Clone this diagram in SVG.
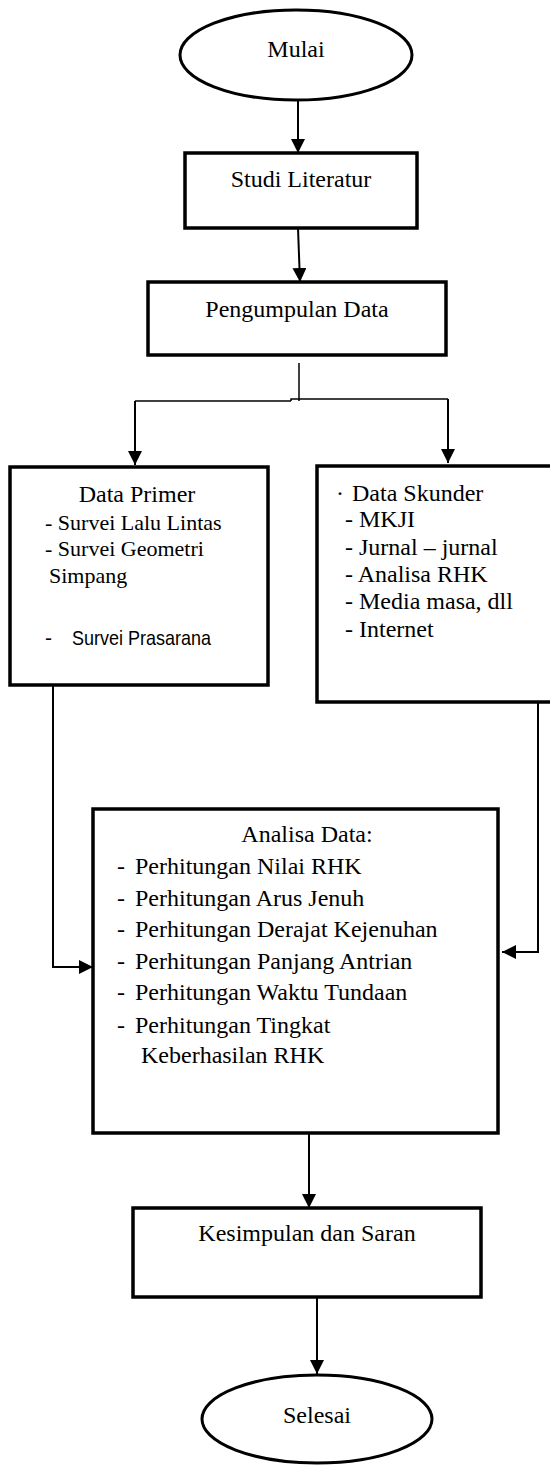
<svg xmlns="http://www.w3.org/2000/svg" width="550" height="1467" viewBox="0 0 550 1467">
<style>
.box{fill:#fff;stroke:#000;stroke-width:3.5}
.oval{fill:#fff;stroke:#000;stroke-width:3}
.t{font-family:"Liberation Serif","Times New Roman",serif;font-size:24px;fill:#000}
.s{font-size:22px}
.c{text-anchor:middle}
.sans{font-family:"Liberation Sans",Arial,sans-serif;font-size:21px;fill:#000}
.ln{fill:none;stroke:#000;stroke-width:2}
.thin{fill:none;stroke:#000;stroke-width:1.5}
</style>
<defs>
<marker id="ah" markerWidth="14" markerHeight="14" refX="14" refY="7" orient="auto" markerUnits="userSpaceOnUse">
<path d="M0,0 L14,7 L0,14 Z" fill="#000"/>
</marker>
</defs>
<rect width="550" height="1467" fill="#fff"/>
<g id="connectors">
<line class="ln" x1="298" y1="100" x2="298" y2="153" marker-end="url(#ah)"/>
<line class="ln" x1="298" y1="228" x2="300" y2="282" marker-end="url(#ah)"/>
<path class="thin" d="M299,363 V401"/>
<path class="thin" d="M291,401 H135"/>
<path class="thin" d="M291,401 V399 H448"/>
<line class="ln" x1="135" y1="401" x2="135" y2="465" marker-end="url(#ah)"/>
<line class="ln" x1="448" y1="399" x2="448" y2="463" marker-end="url(#ah)"/>
<path class="ln" d="M53,685 V967 H93" marker-end="url(#ah)"/>
<path class="ln" d="M538,702 V952 H502" marker-end="url(#ah)"/>
<line class="ln" x1="309" y1="1133" x2="309" y2="1208" marker-end="url(#ah)"/>
<line class="ln" x1="317" y1="1297" x2="317" y2="1374" marker-end="url(#ah)"/>
</g>
<g id="mulai">
<ellipse class="oval" cx="296" cy="55" rx="116" ry="45"/>
<text class="t c" x="296" y="57">Mulai</text>
</g>
<g id="studi">
<rect class="box" x="185" y="153" width="232" height="75"/>
<text class="t c" x="301" y="187">Studi Literatur</text>
</g>
<g id="pengumpulan">
<rect class="box" x="148" y="282" width="298" height="73"/>
<text class="t c" x="297" y="317">Pengumpulan Data</text>
</g>
<g id="primer">
<rect class="box" x="10" y="467" width="258" height="218"/>
<text class="t c" x="137" y="502">Data Primer</text>
<text class="t s" x="45" y="530">- Survei Lalu Lintas</text>
<text class="t s" x="45" y="556">- Survei Geometri</text>
<text class="t s" x="49" y="583">Simpang</text>
<text class="sans" x="45" y="645">-</text>
<text class="sans" x="72" y="645" textLength="139" lengthAdjust="spacingAndGlyphs">Survei Prasarana</text>
</g>
<g id="skunder">
<rect class="box" x="317" y="466" width="245" height="236"/>
<text class="t" x="336" y="501">·</text>
<text class="t" x="352" y="501">Data Skunder</text>
<text class="t" x="345" y="527">- MKJI</text>
<text class="t" x="345" y="555">- Jurnal – jurnal</text>
<text class="t" x="345" y="582">- Analisa RHK</text>
<text class="t" x="345" y="609">- Media masa, dll</text>
<text class="t" x="345" y="637">- Internet</text>
</g>
<g id="analisa">
<rect class="box" x="93" y="809" width="405" height="324"/>
<text class="t c" x="307" y="842">Analisa Data:</text>
<text class="t" x="117" y="874">-</text><text class="t" x="135" y="874">Perhitungan Nilai RHK</text>
<text class="t" x="117" y="906">-</text><text class="t" x="135" y="906">Perhitungan Arus Jenuh</text>
<text class="t" x="117" y="937">-</text><text class="t" x="135" y="937">Perhitungan Derajat Kejenuhan</text>
<text class="t" x="117" y="969">-</text><text class="t" x="135" y="969">Perhitungan Panjang Antrian</text>
<text class="t" x="117" y="1000">-</text><text class="t" x="135" y="1000">Perhitungan Waktu Tundaan</text>
<text class="t" x="117" y="1033">-</text><text class="t" x="135" y="1033">Perhitungan Tingkat</text>
<text class="t" x="141" y="1063">Keberhasilan RHK</text>
</g>
<g id="kesimpulan">
<rect class="box" x="133" y="1208" width="348" height="89"/>
<text class="t c" x="307" y="1241">Kesimpulan dan Saran</text>
</g>
<g id="selesai">
<ellipse class="oval" cx="317" cy="1419" rx="115" ry="44"/>
<text class="t c" x="317" y="1423">Selesai</text>
</g>
</svg>
